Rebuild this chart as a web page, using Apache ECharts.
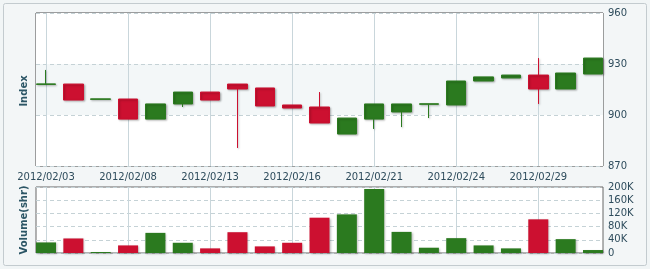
<!DOCTYPE html>
<html>
<head>
<meta charset="utf-8">
<script src="https://cdn.jsdelivr.net/npm/echarts@6/dist/echarts.min.js"></script>
<style>html,body{margin:0;padding:0;background:#fff}#c{width:650px;height:269px}</style>
</head>
<body>
<div id="c"></div>
<script>
// Trading dates (category index = position)
var dates = ['2012/02/03','2012/02/06','2012/02/07','2012/02/08','2012/02/09','2012/02/10','2012/02/13','2012/02/14','2012/02/15','2012/02/16','2012/02/17','2012/02/20','2012/02/21','2012/02/22','2012/02/23','2012/02/24','2012/02/27','2012/02/28','2012/02/29','2012/03/01','2012/03/02'];
var opens  = [918.0, 918.2, 909.2, 909.4, 897.6, 906.5, 913.5, 918.2, 915.9, 905.9, 904.7, 888.8, 897.6, 901.8, 906.3, 905.9, 920.0, 921.8, 923.5, 915.3, 924.1];
var closes = [918.3, 908.8, 909.5, 897.6, 906.5, 913.5, 908.8, 915.3, 905.3, 904.1, 895.3, 898.2, 906.5, 906.5, 906.6, 920.0, 922.4, 923.5, 915.3, 924.7, 933.5];
var lows   = [918.0, 908.8, 909.2, 897.6, 897.6, 904.7, 908.8, 880.6, 905.3, 904.1, 895.3, 888.8, 891.8, 892.9, 898.2, 905.9, 920.0, 921.8, 906.5, 915.3, 924.1];
var highs  = [926.5, 918.2, 909.5, 909.4, 906.5, 913.5, 913.5, 918.2, 915.9, 905.9, 913.5, 898.2, 906.5, 906.5, 906.6, 920.0, 922.4, 923.5, 933.5, 924.7, 933.5];
var volumes = [32000, 44000, 3000, 23000, 61000, 31000, 14000, 63000, 20000, 31000, 107000, 117000, 194000, 64000, 16000, 45000, 23000, 14000, 102000, 42000, 9000];
var labelIdx = [0, 3, 6, 9, 12, 15, 18];
var priceTicks = [870, 900, 930, 960];

var UP = '#2b7a1f', DOWN = '#cc1030';
var candleData = dates.map(function (d, i) { return [i, opens[i], closes[i], lows[i], highs[i]]; });
var volData = volumes.map(function (v, i) {
  return { value: [i, v], itemStyle: { color: closes[i] >= opens[i] ? UP : DOWN } };
});
var txt = '#2e4c5c';
var xBase = {
  type: 'value', min: -0.366, max: 20.366,
  axisLine: { show: false },
  axisTick: { show: false, customValues: labelIdx },
  splitLine: { show: true, lineStyle: { color: '#c9d6db', width: 1 } }
};
var chart = echarts.init(document.getElementById('c'));
chart.setOption({
  animation: false,
  backgroundColor: '#f1f5f6',
  textStyle: { fontFamily: 'DejaVu Sans' },
  graphic: [
    { type: 'rect', shape: { x: 3.5, y: 3.5, width: 643, height: 262, r: 2 }, style: { fill: '#f3f6f7', stroke: '#c3cbcf', lineWidth: 1 }, z: -10 },
    { type: 'text', x: 24, y: 91, rotation: Math.PI / 2, style: { text: 'Index', fill: '#2b5565', font: 'bold 10px DejaVu Sans', align: 'center', verticalAlign: 'middle' } },
    { type: 'text', x: 24, y: 220, rotation: Math.PI / 2, style: { text: 'Volume(shr)', fill: '#2b5565', font: 'bold 10px DejaVu Sans', align: 'center', verticalAlign: 'middle' } }
  ],
  grid: [
    { left: 36, right: 47, top: 13, height: 153, show: true, backgroundColor: '#fff', borderColor: '#444', borderWidth: 1 },
    { left: 36, right: 47, top: 187, height: 66, show: true, backgroundColor: '#fff', borderColor: '#666', borderWidth: 1 }
  ],
  xAxis: [
    Object.assign({}, xBase, { gridIndex: 0,
      axisLabel: { show: true, customValues: labelIdx, color: txt, fontSize: 10, margin: 6, formatter: function (v) { return dates[Math.round(v)]; } } }),
    Object.assign({}, xBase, { gridIndex: 1, axisLabel: { show: false } })
  ],
  yAxis: [
    { gridIndex: 0, type: 'value', position: 'right', min: 870, max: 960, interval: 30,
      axisLine: { show: false }, axisTick: { show: false },
      axisLabel: { color: txt, fontSize: 10, margin: 5, formatter: function (v) { return String(v); } },
      splitLine: { lineStyle: { color: '#c5d2d6', type: [4, 3] } },
      splitArea: { show: true, areaStyle: { color: ['#ffffff', '#f3f7f8', '#ffffff'] } } },
    { gridIndex: 1, type: 'value', position: 'right', min: 0, max: 200000, interval: 40000,
      axisLine: { show: false }, axisTick: { show: false },
      axisLabel: { color: txt, fontSize: 10, margin: 5, formatter: function (v) { return v === 0 ? '0' : (v / 1000) + 'K'; } },
      splitLine: { lineStyle: { color: '#c5d2d6', type: [4, 3] } } }
  ],
  series: [
    { type: 'candlestick', xAxisIndex: 0, yAxisIndex: 0, data: candleData, barWidth: 20,
      itemStyle: { color: UP, color0: DOWN, borderColor: UP, borderColor0: DOWN, borderWidth: 1,
        shadowBlur: 2, shadowColor: 'rgba(0,0,0,0.25)', shadowOffsetX: 1, shadowOffsetY: 1 } },
    { type: 'bar', xAxisIndex: 1, yAxisIndex: 1, data: volData, barWidth: 20,
      itemStyle: { shadowBlur: 2, shadowColor: 'rgba(0,0,0,0.25)', shadowOffsetX: 1, shadowOffsetY: 1 } }
  ]
});
</script>
</body>
</html>
